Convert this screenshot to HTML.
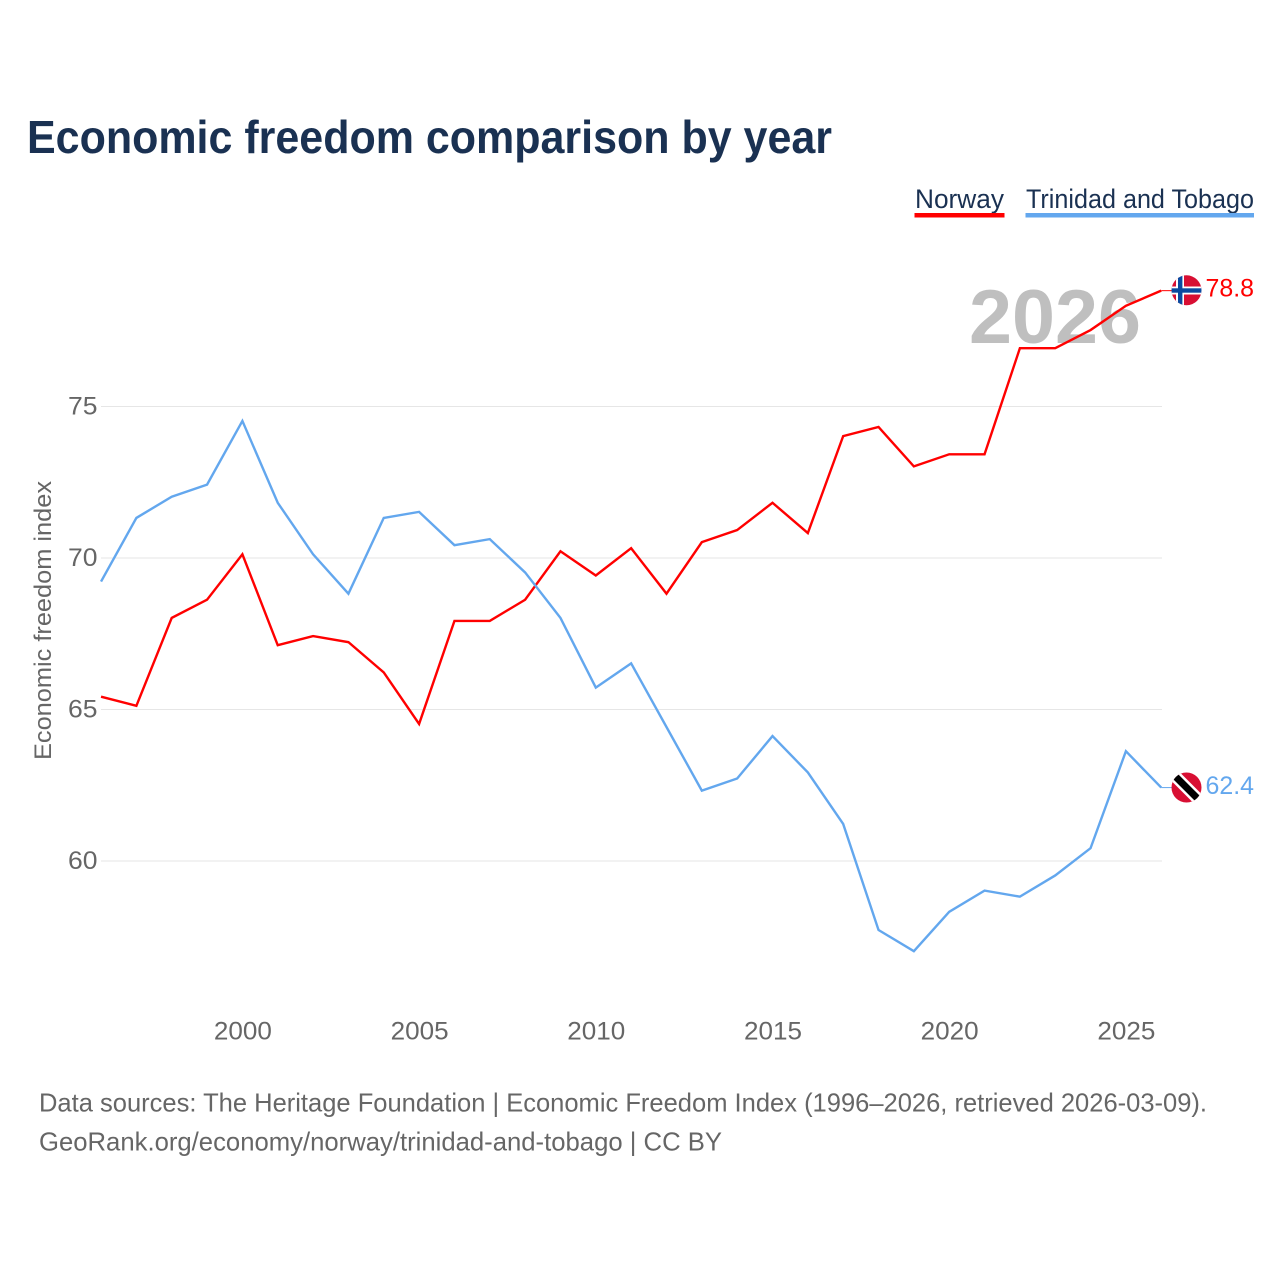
<!DOCTYPE html>
<html>
<head>
<meta charset="utf-8">
<title>Economic freedom comparison by year</title>
<style>
html,body{margin:0;padding:0;background:#fff;width:1280px;height:1280px;overflow:hidden}
svg{display:block}
text{font-family:"Liberation Sans",sans-serif}
</style>
</head>
<body>
<svg id="chart" width="1280" height="1280" viewBox="0 0 1280 1280" xmlns="http://www.w3.org/2000/svg">
  <defs>
    <clipPath id="flag-clip-no"><circle cx="1186.5" cy="290.3" r="15"/></clipPath>
    <clipPath id="flag-clip-tt"><circle cx="1186.5" cy="787.5" r="15"/></clipPath>
  </defs>
  <text x="27" y="153" font-size="46" font-weight="700" fill="#1a3152" textLength="805" lengthAdjust="spacingAndGlyphs">Economic freedom comparison by year</text>

  <g>
    <text x="915" y="208" font-size="27" fill="#1a3152" textLength="89" lengthAdjust="spacingAndGlyphs">Norway</text>
    <rect x="914.5" y="213" width="90" height="4.5" fill="#ff0000"/>
  </g>
  <g>
    <text x="1026" y="208" font-size="27" fill="#1a3152" textLength="228" lengthAdjust="spacingAndGlyphs">Trinidad and Tobago</text>
    <rect x="1025.5" y="213" width="228.5" height="4.5" fill="#63a7ee"/>
  </g>

  <g id="grid"></g>
  <g id="y-ticks"></g>
  <g id="x-ticks"></g>
  <text transform="translate(51,760) rotate(-90)" font-size="24.5" fill="#666666" textLength="279" lengthAdjust="spacingAndGlyphs">Economic freedom index</text>

  <text x="969" y="343" font-size="76" font-weight="700" fill="#bfbfbf" textLength="172" lengthAdjust="spacingAndGlyphs">2026</text>

  <g id="series"></g>

  <g clip-path="url(#flag-clip-no)">
    <rect x="1171" y="275" width="31" height="31" fill="#d80f33"/>
    <rect x="1176" y="275" width="8" height="31" fill="#fff"/>
    <rect x="1171" y="286.5" width="31" height="8" fill="#fff"/>
    <rect x="1178" y="275" width="4.4" height="31" fill="#0b4aa0"/>
    <rect x="1171" y="288.3" width="31" height="4.4" fill="#0b4aa0"/>
  </g>
  <g clip-path="url(#flag-clip-tt)">
    <rect x="1171" y="772" width="31" height="31" fill="#d80f33"/>
    <line x1="1171.5" y1="772.5" x2="1201.5" y2="802.5" stroke="#fff" stroke-width="12"/>
    <line x1="1171.5" y1="772.5" x2="1201.5" y2="802.5" stroke="#000" stroke-width="7"/>
  </g>
  <text x="1205.5" y="296.5" font-size="25" fill="#ff0000" textLength="48.5" lengthAdjust="spacingAndGlyphs">78.8</text>
  <text x="1205.5" y="794" font-size="25" fill="#63a7ee" textLength="48.5" lengthAdjust="spacingAndGlyphs">62.4</text>

  <text x="39" y="1111.5" font-size="26" fill="#666666" textLength="1168" lengthAdjust="spacingAndGlyphs">Data sources: The Heritage Foundation | Economic Freedom Index (1996–2026, retrieved 2026-03-09).</text>
  <text x="39" y="1150.5" font-size="26" fill="#666666" textLength="683" lengthAdjust="spacingAndGlyphs">GeoRank.org/economy/norway/trinidad-and-tobago | CC BY</text>
</svg>
<script>
var years = [1996,1997,1998,1999,2000,2001,2002,2003,2004,2005,2006,2007,2008,2009,2010,2011,2012,2013,2014,2015,2016,2017,2018,2019,2020,2021,2022,2023,2024,2025,2026];
var norwayValues = [65.4,65.1,68,68.6,70.1,67.1,67.4,67.2,66.2,64.5,67.9,67.9,68.6,70.2,69.4,70.3,68.8,70.5,70.9,71.8,70.8,74,74.3,73,73.4,73.4,76.9,76.9,77.5,78.3,78.8];
var trinidadValues = [69.2,71.3,72,72.4,74.5,71.8,70.1,68.8,71.3,71.5,70.4,70.6,69.5,68,65.7,66.5,64.4,62.3,62.7,64.1,62.9,61.2,57.7,57,58.3,59,58.8,59.5,60.4,63.6,62.4];
var yTicks = [60,65,70,75];
var xTicks = [2000,2005,2010,2015,2020,2025];

var NS = 'http://www.w3.org/2000/svg';
function xScale(year){ return 242.4 + (year - 2000) * 35.34; }
function yScale(value){ return 405.8 + (75 - value) * 30.3; }

var grid = document.getElementById('grid');
var yG = document.getElementById('y-ticks');
var xG = document.getElementById('x-ticks');
var seriesG = document.getElementById('series');

yTicks.forEach(function(t){
  var l = document.createElementNS(NS,'line');
  
  
  l.setAttribute('x1', 101);
  l.setAttribute('x2', 1162);
  l.setAttribute('y1', yScale(t) + 0.7);
  l.setAttribute('y2', yScale(t) + 0.7);
  l.setAttribute('stroke', '#e6e6e6');
  l.setAttribute('stroke-width', '1');
  grid.appendChild(l);
  var s = document.createElementNS(NS,'text');
  
  
  s.setAttribute('x', 68);
  s.setAttribute('y', yScale(t) + 8.7);
  s.setAttribute('font-size', '25');
  s.setAttribute('fill', '#666666');
  s.setAttribute('textLength', '29.5');
  s.setAttribute('lengthAdjust', 'spacingAndGlyphs');
  s.textContent = t;
  yG.appendChild(s);
});

xTicks.forEach(function(t){
  var s = document.createElementNS(NS,'text');
  
  
  s.setAttribute('x', xScale(t) + 0.5);
  s.setAttribute('y', 1039.5);
  s.setAttribute('text-anchor', 'middle');
  s.setAttribute('font-size', '25');
  s.setAttribute('fill', '#666666');
  s.setAttribute('textLength', '58');
  s.setAttribute('lengthAdjust', 'spacingAndGlyphs');
  s.textContent = t;
  xG.appendChild(s);
});

function pathFor(values){
  return values.map(function(v,i){
    return (i ? 'L' : 'M') + xScale(years[i]).toFixed(2) + ' ' + yScale(v).toFixed(2);
  }).join(' ');
}

function connectorFor(values, name, color){
  var last = values[values.length - 1];
  var c = document.createElementNS(NS,'line');
  
  
  c.setAttribute('x1', xScale(years[years.length - 1]));
  c.setAttribute('x2', 1172);
  c.setAttribute('y1', yScale(last));
  c.setAttribute('y2', yScale(last));
  c.setAttribute('stroke', color);
  c.setAttribute('stroke-width', '1');
  seriesG.appendChild(c);
}

var norwayLine = document.createElementNS(NS,'path');


norwayLine.setAttribute('d', pathFor(norwayValues));
norwayLine.setAttribute('fill', 'none');
norwayLine.setAttribute('stroke', '#ff0000');
norwayLine.setAttribute('stroke-width', '2.4');
seriesG.appendChild(norwayLine);

var trinidadLine = document.createElementNS(NS,'path');


trinidadLine.setAttribute('d', pathFor(trinidadValues));
trinidadLine.setAttribute('fill', 'none');
trinidadLine.setAttribute('stroke', '#63a7ee');
trinidadLine.setAttribute('stroke-width', '2.4');
seriesG.appendChild(trinidadLine);

connectorFor(norwayValues, 'connector-norway', '#ff0000');
connectorFor(trinidadValues, 'connector-trinidad-and-tobago', '#63a7ee');
</script>
</body>
</html>
